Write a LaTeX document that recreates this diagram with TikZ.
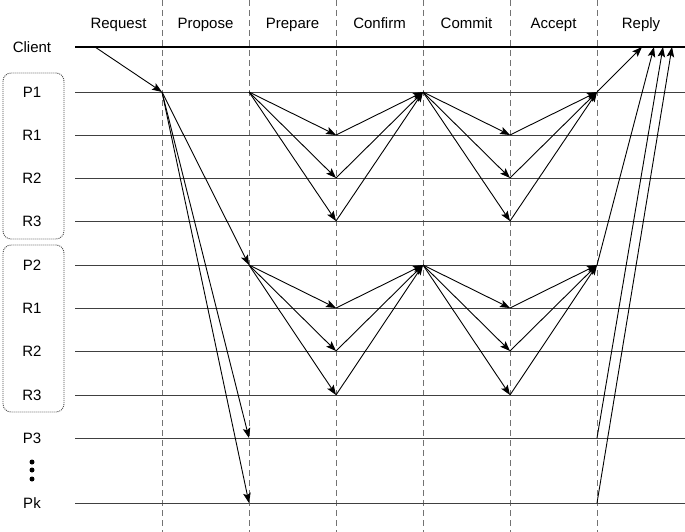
\documentclass[tikz,border=0pt]{standalone}
\usepackage{fontspec}
\setmainfont{Liberation Sans}
\usetikzlibrary{arrows.meta,positioning,calc}

\tikzset{
  phase/.style={draw=black!55, dash pattern=on 6pt off 4pt, line width=1pt},
  lane/.style={draw=black!75, line width=0.9pt},
  clientlane/.style={draw=black, line width=1.6pt},
  msg/.style={-{Stealth[length=10pt,width=7.5pt,inset=2pt]}, line width=0.9pt},
  grp/.style={draw=black!70, dash pattern=on 1pt off 1pt, rounded corners=8pt, line width=0.9pt},
  lbl/.style={font=\fontsize{15}{18}\selectfont, inner sep=0pt},
}

\begin{document}
\begin{tikzpicture}[x=1pt,y=-1pt]
		\useasboundingbox (0,0) rectangle (685,532);
		%
		% phases
		\foreach \a/\b/\name in {75/162/Request,162/249/Propose,249/336/Prepare,336/423/Confirm,423/510/Commit,510/597/Accept,597/685/Reply}
			\node[lbl, anchor=base] (ph-\name) at ({(\a+\b)/2},29) {\name};
		\foreach \x in {162,249,336,423,510,597}
			\draw[phase] (\x,0) -- (\x,532);
		%
		% lanes and crossings
		\foreach \n/\t/\y in {p1/P1/92,r11/R1/135,r12/R2/178,r13/R3/221,p2/P2/265,r21/R1/308,r22/R2/351,r23/R3/395,p3/P3/438,pk/Pk/503} {
			\node[lbl] (\n) at (32,\y) {\t};
			\draw[lane] (75,\y) -- (685,\y);
			\foreach \c/\x in {1/162,2/249,3/336,4/423,5/510,6/597}
				\coordinate (\n-\c) at (\x,\y);
		}
		\node[lbl] (client) at (32,47) {Client};
		\draw[clientlane] (75,47) -- (685,47);
		\coordinate (req) at (95,47);
		\foreach \k/\x in {1/642,2/654,3/663,4/672}
			\coordinate (rep\k) at (\x,47);
		%
		\draw[grp] (3,73) rectangle (64,239);
		\draw[grp] (3,245) rectangle (64,412);
		\foreach \y in {462,470,479}
			\fill (32,\y) circle (2.5pt);
		%
		% messages
		\draw[msg] (req) -- (p1-1);
		\draw[msg] (p1-1) -- (p2-2);
		\draw[msg] (p1-1) -- (p3-2);
		\draw[msg] (p1-1) -- (pk-2);
		\foreach \p/\r in {p1/r1,p2/r2} {
			\foreach \k in {1,2,3} {
				\draw[msg] (\p-2) -- (\r\k-3);
				\draw[msg] (\r\k-3) -- (\p-4);
				\draw[msg] (\p-4) -- (\r\k-5);
				\draw[msg] (\r\k-5) -- (\p-6);
			}
		}
		\draw[msg] (p1-6) -- (rep1);
		\draw[msg] (p2-6) -- (rep2);
		\draw[msg] (p3-6) -- (rep3);
		\draw[msg] (pk-6) -- (rep4);
	\end{tikzpicture}
\end{document}
